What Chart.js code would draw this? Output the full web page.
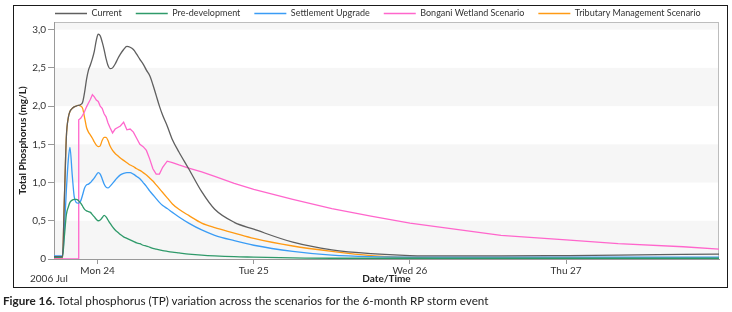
<!DOCTYPE html>
<html>
<head>
<meta charset="utf-8">
<script src="https://cdn.jsdelivr.net/npm/chart.js@4.4.0/dist/chart.umd.min.js"></script>
<style>
  html, body { margin: 0; padding: 0; background: #fff; width: 732px; height: 312px; overflow: hidden; }
  #wrap { position: relative; width: 732px; height: 312px; }
  #caja { position: absolute; left: 0; top: -5px; width: 732px; height: 295px; }
  #marco { position: absolute; left: 13px; top: 5px; width: 715px; height: 283px; border: 1.5px solid #1a1a1a; box-sizing: border-box; pointer-events: none; }
  #leyenda { position: absolute; left: 3px; top: 293px; font: 11.7px Lato, sans-serif; color: #222; white-space: nowrap; }
</style>
</head>
<body>
<div id="wrap">
  <div id="caja"><canvas id="grafico" width="732" height="295"></canvas></div>
  <div id="marco"></div>
  <div id="leyenda"><b>Figure 16.</b> Total phosphorus (TP) variation across the scenarios for the 6-month RP storm event</div>
</div>
<script>
// ========== Datos ==========
// horas desde Mon 24 00:00
const horas = [-6.7, -5.4, -5.1, -4.8, -4.5, -4.25, -3.9, -3.6, -3.3, -3.0, -2.9, -2.6, -2.3, -2.0, -1.7, -1.4, -1.1, -0.8, -0.5, -0.2,
  0.1, 0.4, 0.7, 1.0, 1.3, 1.6, 1.9, 2.3, 2.7, 3.1, 3.5, 4.0, 4.5, 5.0, 5.5, 6.0, 6.5, 7.0, 7.5, 8.0,
  8.5, 9.0, 9.5, 10.0, 10.7, 11.5, 12.5, 14, 16, 18, 21, 24, 30, 36, 42, 48, 54, 62, 72, 80, 90, 95.5];

const current = [0.03, 0.03, 0.8, 1.6, 1.85, 1.93, 1.97, 1.99, 2.0, 2.01, 2.01, 2.02, 2.05, 2.18, 2.35, 2.47, 2.54, 2.62, 2.72, 2.86,
  2.94, 2.92, 2.84, 2.74, 2.62, 2.53, 2.49, 2.50, 2.55, 2.62, 2.68, 2.74, 2.78, 2.77, 2.74, 2.68, 2.61, 2.55, 2.47, 2.40,
  2.28, 2.14, 2.00, 1.88, 1.74, 1.56, 1.40, 1.18, 0.88, 0.65, 0.48, 0.39, 0.22, 0.12, 0.07, 0.045, 0.04, 0.04, 0.045, 0.05, 0.06, 0.065];

const preDesarrollo = [0.02, 0.02, 0.3, 0.58, 0.68, 0.74, 0.77, 0.78, 0.78, 0.77, 0.76, 0.73, 0.69, 0.65, 0.63, 0.62, 0.61, 0.58, 0.55, 0.52,
  0.50, 0.51, 0.54, 0.57, 0.55, 0.51, 0.47, 0.42, 0.38, 0.35, 0.32, 0.29, 0.27, 0.25, 0.23, 0.21, 0.20, 0.18, 0.17, 0.155,
  0.14, 0.13, 0.12, 0.11, 0.10, 0.09, 0.08, 0.065, 0.05, 0.04, 0.03, 0.025, 0.015, 0.01, 0.01, 0.01, 0.01, 0.01, 0.01, 0.01, 0.01, 0.01];

const asentamiento = [0.04, 0.04, 0.4, 0.9, 1.3, 1.46, 1.1, 0.82, 0.74, 0.73, 0.73, 0.76, 0.84, 0.93, 0.97, 0.98, 1.0, 1.03, 1.06, 1.10,
  1.13, 1.11, 1.05, 0.98, 0.94, 0.93, 0.95, 0.99, 1.03, 1.07, 1.10, 1.12, 1.13, 1.13, 1.11, 1.08, 1.05, 1.0, 0.95, 0.89,
  0.84, 0.79, 0.74, 0.70, 0.66, 0.61, 0.55, 0.47, 0.38, 0.31, 0.24, 0.18, 0.10, 0.05, 0.03, 0.025, 0.025, 0.025, 0.025, 0.025, 0.025, 0.025];

const bongani = [0, 0, 0, 0, 0, 0, 0, 0, 0, 0, 1.82, 1.84, 1.88, 1.93, 1.99, 2.04, 2.09, 2.15, 2.12, 2.08,
  2.06, 2.00, 1.97, 1.90, 1.86, 1.78, 1.72, 1.65, 1.70, 1.72, 1.74, 1.79, 1.69, 1.70, 1.66, 1.58, 1.50, 1.47, 1.42, 1.31,
  1.18, 1.11, 1.11, 1.20, 1.28, 1.26, 1.23, 1.19, 1.14, 1.08, 0.99, 0.91, 0.78, 0.66, 0.56, 0.47, 0.40, 0.31, 0.25, 0.20, 0.16, 0.13];

const tributario = [0, 0, 0.8, 1.6, 1.85, 1.93, 1.97, 1.99, 2.0, 2.01, 2.01, 2.0, 1.97, 1.85, 1.72, 1.66, 1.62, 1.58, 1.53, 1.49,
  1.47, 1.48, 1.55, 1.59, 1.59, 1.55, 1.48, 1.42, 1.38, 1.35, 1.32, 1.29, 1.26, 1.23, 1.21, 1.18, 1.16, 1.13, 1.10, 1.06,
  1.02, 0.97, 0.92, 0.87, 0.80, 0.72, 0.65, 0.57, 0.47, 0.41, 0.34, 0.27, 0.17, 0.10, 0.045, 0.02, 0.01, 0.01, 0.01, 0.01, 0.01, 0.01];

const diasHoras = [0, 24, 48, 72];
const diasEtiquetas = ["Mon 24", "Tue 25", "Wed 26", "Thu 27"];
const ticksY = [0, 0.5, 1, 1.5, 2, 2.5, 3];
const bandas = [[0, 0.5], [1, 1.5], [2, 2.5], [3, 3.1]];

// ========== Plugins ==========
const fondoBandas = {
  id: "fondoBandas",
  beforeDraw(chart) {
    const { ctx, chartArea: a, scales: { y } } = chart;
    ctx.save();
    ctx.fillStyle = "#f6f6f6";
    bandas.forEach(([desde, hasta]) => {
      const y1 = Math.max(y.getPixelForValue(hasta), a.top);
      const y2 = y.getPixelForValue(desde);
      ctx.fillRect(a.left, y1, a.width, y2 - y1);
    });
    ctx.strokeStyle = "#bdbdbd";
    ctx.lineWidth = 1;
    ctx.strokeRect(a.left + 0.5, a.top + 0.5, a.width - 1, a.height);
    ctx.restore();
  },
  afterDraw(chart) {
    const { ctx } = chart;
    ctx.save();
    ctx.font = "10px Lato, sans-serif";
    ctx.fillStyle = "#333";
    ctx.textBaseline = "middle";
    ctx.fillText("2006 Jul", 30, 284);
    ctx.restore();
  },
};

// leyenda: alto fijo y desplazada para que empiece en x=55
const alturaLeyenda = {
  id: "alturaLeyenda",
  beforeInit(chart) {
    const fitOriginal = chart.legend.fit;
    chart.legend.fit = function () {
      fitOriginal.bind(chart.legend)();
      this.height = 27;
      this.lineWidths[0] = 733 - 2 * 55;
    };
  },
};

// ========== Grafico ==========
function serie(label, valores, color, tension) {
  return {
    label: label,
    data: horas.map((h, i) => ({ x: h, y: valores[i] })),
    borderColor: color,
    backgroundColor: color,
    borderWidth: 1.3,
    pointRadius: 0,
    tension: tension,
    cubicInterpolationMode: tension ? "monotone" : "default",
  };
}

const fuente = { family: "Lato, sans-serif", size: 10 };

new Chart(document.getElementById("grafico").getContext("2d"), {
  type: "line",
  data: {
    datasets: [
      serie("Current", current, "#5f5f5f", 0.4),
      serie("Pre-development", preDesarrollo, "#2f9a6a", 0.4),
      serie("Settlement Upgrade", asentamiento, "#3a9cf5", 0.4),
      serie("Bongani Wetland Scenario", bongani, "#ff66cc", 0),
      serie("Tributary Management Scenario", tributario, "#ff9a14", 0.4),
    ],
  },
  options: {
    responsive: false,
    animation: false,
    devicePixelRatio: 1,
    layout: { padding: { left: 0, right: 13, top: 0, bottom: 0 } },
    plugins: {
      legend: {
        labels: {
          boxWidth: 32,
          boxHeight: 0,
          padding: 14,
          color: "#333",
          font: { family: "Lato, sans-serif", size: 9 },
        },
      },
      tooltip: { enabled: false },
    },
    scales: {
      x: {
        type: "linear",
        min: -6.7,
        max: 95.5,
        afterBuildTicks: (s) => { s.ticks = diasHoras.map((v) => ({ value: v })); },
        afterFit: (s) => { s.height = 31; },
        grid: { drawOnChartArea: false, tickLength: 5, color: "#999" },
        border: { color: "#999" },
        ticks: {
          padding: 1,
          maxRotation: 0,
          autoSkip: false,
          color: "#333",
          font: fuente,
          callback: (v) => diasEtiquetas[diasHoras.indexOf(v)],
        },
        title: {
          display: true,
          text: "Date/Time",
          color: "#222",
          font: { family: "Lato, sans-serif", size: 10, weight: "bold" },
          padding: { top: 0, bottom: 5 },
        },
      },
      y: {
        min: 0,
        max: 3.1,
        afterBuildTicks: (s) => { s.ticks = ticksY.map((v) => ({ value: v })); },
        afterFit: (s) => { s.width = 54; },
        grid: { drawOnChartArea: false, tickLength: 6, color: "#999" },
        border: { color: "#999" },
        ticks: {
          padding: 2,
          color: "#333",
          font: fuente,
          callback: (v) => (v === 0 ? "0" : v.toFixed(1).replace(".", ",")),
        },
        title: {
          display: true,
          text: "Total Phosphorus (mg/L)",
          color: "#222",
          font: { family: "Lato, sans-serif", size: 10, weight: "bold" },
          padding: { top: 17, bottom: 0 },
        },
      },
    },
  },
  plugins: [fondoBandas, alturaLeyenda],
});
</script>
</body>
</html>
